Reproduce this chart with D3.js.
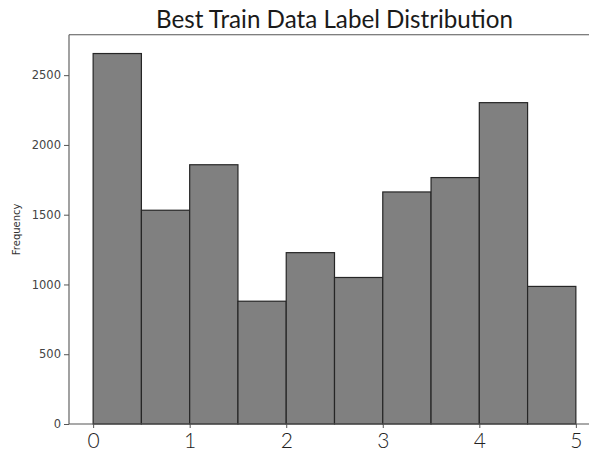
<!DOCTYPE html>
<html>
<head>
<meta charset="utf-8">
<script src="https://cdn.jsdelivr.net/npm/d3@7"></script>
<style>
  html, body { margin: 0; padding: 0; background: #fff; }
  svg { display: block; }
</style>
</head>
<body>
<svg id="chart" width="589" height="454"></svg>
<script>
// Histogram of labels: bin edges and counts per bin
const binEdges = [0, 0.5, 1, 1.5, 2, 2.5, 3, 3.5, 4, 4.5, 5];
const binCounts = [2655, 1532, 1858, 880, 1228, 1050, 1663, 1766, 2303, 986];
const xTicks = [0, 1, 2, 3, 4, 5];
const yTicks = [0, 500, 1000, 1500, 2000, 2500];
const titleText = "Best Train Data Label Distribution";
const yLabel = "Frequency";

const W = 589, H = 454;
const plot = { left: 69, right: 600, top: 34.7, bottom: 424 };

const svg = d3.select("#chart");

const x = d3.scaleLinear().domain([-0.25, 5.25]).range([plot.left, plot.right]);
const y = d3.scaleLinear().domain([0, 2790]).range([plot.bottom, plot.top]);

const bins = binCounts.map((c, i) => ({ x0: binEdges[i], x1: binEdges[i + 1], count: c }));

// bars
svg.append("g")
  .selectAll("rect")
  .data(bins)
  .join("rect")
  .attr("x", d => x(d.x0))
  .attr("y", d => y(d.count))
  .attr("width", d => x(d.x1) - x(d.x0))
  .attr("height", d => y(0) - y(d.count))
  .attr("fill", "#808080")
  .attr("stroke", "#262626")
  .attr("stroke-width", 1.2);

// y axis
const yAxis = svg.append("g")
  .attr("transform", `translate(${plot.left},0)`)
  .call(d3.axisLeft(y).tickValues(yTicks).tickSize(5).tickPadding(3).tickFormat(d3.format("d")));
yAxis.select(".domain").remove();
yAxis.selectAll(".tick line").attr("stroke", "#555");
yAxis.selectAll(".tick text")
  .attr("fill", "#444")
  .style("font-family", "'DejaVu Sans', sans-serif")
  .style("font-size", "11.5px");

// x axis
const xAxis = svg.append("g")
  .attr("transform", `translate(0,${plot.bottom})`)
  .call(d3.axisBottom(x).tickValues(xTicks).tickSize(4).tickPadding(5).tickFormat(d3.format("d")));
xAxis.select(".domain").remove();
xAxis.selectAll(".tick line").attr("stroke", "#555");
xAxis.selectAll(".tick text")
  .attr("fill", "#222")
  .attr("dy", "0.7em")
  .style("font-family", "'Lato', sans-serif")
  .style("font-weight", "300")
  .style("font-size", "21px");

// spines
const spines = svg.append("g").attr("stroke", "#555").attr("stroke-width", 1.1).attr("fill", "none");
spines.append("line").attr("x1", plot.left).attr("x2", plot.left).attr("y1", plot.top).attr("y2", plot.bottom);
spines.append("line").attr("x1", plot.left).attr("x2", W).attr("y1", plot.bottom).attr("y2", plot.bottom);
spines.append("line").attr("x1", plot.left).attr("x2", W).attr("y1", plot.top).attr("y2", plot.top);

// y label
svg.append("text")
  .attr("transform", `translate(20,${(plot.top + plot.bottom) / 2}) rotate(-90)`)
  .attr("text-anchor", "middle")
  .attr("fill", "#333")
  .style("font-family", "'DejaVu Sans', sans-serif")
  .style("font-size", "10px")
  .text(yLabel);

// title, sized to span the same width as the plot heading
const title = svg.append("text")
  .attr("x", (plot.left + plot.right) / 2)
  .attr("y", 27.5)
  .attr("text-anchor", "middle")
  .attr("fill", "#1a1a1a")
  .style("font-family", "'Lato', sans-serif")
  .style("font-size", "24px")
  .text(titleText);
const len = title.node().getComputedTextLength();
title.style("font-size", (24 * 357 / len).toFixed(2) + "px");
</script>
</body>
</html>
